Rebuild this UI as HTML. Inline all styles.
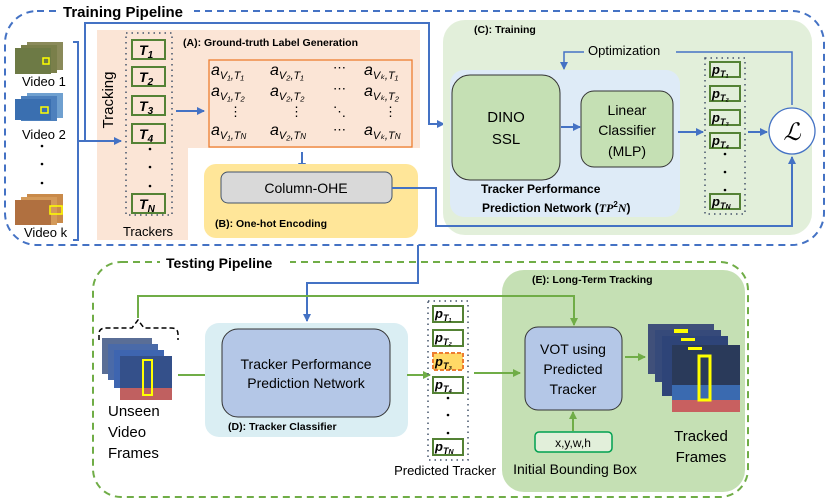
<!DOCTYPE html>
<html><head><meta charset="utf-8"><style>
html,body{margin:0;padding:0;background:#fff}
svg{display:block}
text{font-family:"Liberation Sans",sans-serif}
.b{font-weight:bold}
.m{font-family:"Liberation Serif",serif;font-style:italic}
</style></head><body>
<svg width="831" height="503" viewBox="0 0 831 503" xmlns="http://www.w3.org/2000/svg">
<defs>
<marker id="ab" markerWidth="8" markerHeight="8" refX="7" refY="4" orient="auto" markerUnits="userSpaceOnUse"><path d="M0,0 L8,4 L0,8 z" fill="#4472c4"/></marker>
<marker id="ag" markerWidth="8" markerHeight="8" refX="7" refY="4" orient="auto" markerUnits="userSpaceOnUse"><path d="M0,0 L8,4 L0,8 z" fill="#70ad47"/></marker>
</defs>
<rect x="5" y="11" width="819" height="234" rx="32" fill="none" stroke="#4472c4" stroke-width="2" stroke-dasharray="7,5"/>
<rect x="58" y="2" width="136" height="20" fill="#fff"/>
<text x="63" y="17" class="b" font-size="15">Training Pipeline</text>

<path d="M97,30 H420 V148 H188 V240 H97 Z" fill="#fbe5d6"/>
<text x="183" y="46" class="b" font-size="10.5">(A): Ground-truth Label Generation</text>
<rect x="126" y="33" width="46" height="182" fill="none" stroke="#44546a" stroke-width="1.5" stroke-dasharray="1.5,4"/>
<g fill="none" stroke="#548235" stroke-width="2">
<rect x="132" y="40" width="33" height="19"/><rect x="132" y="67" width="33" height="19"/>
<rect x="132" y="96" width="33" height="19"/><rect x="132" y="124" width="33" height="19"/>
<rect x="132" y="194" width="33" height="19"/></g>
<g class="m b" font-size="14"><text x="139" y="55">T<tspan font-size="10" dy="3">1</tspan></text>
<text x="139" y="82">T<tspan font-size="10" dy="3">2</tspan></text>
<text x="139" y="111">T<tspan font-size="10" dy="3">3</tspan></text>
<text x="139" y="139">T<tspan font-size="10" dy="3">4</tspan></text>
<text x="139" y="209">T<tspan font-size="10" dy="3">N</tspan></text></g>
<g fill="#000"><circle cx="150" cy="149" r="1.3"/><circle cx="150" cy="167" r="1.3"/><circle cx="150" cy="186" r="1.3"/></g>
<text x="148" y="236" text-anchor="middle" font-size="13">Trackers</text>
<text transform="translate(113,100) rotate(-90)" text-anchor="middle" font-size="15">Tracking</text>
<rect x="209" y="60" width="203" height="87" fill="none" stroke="#ed7d31" stroke-width="1.3"/>
<g class="m" font-size="16">
<text x="211" y="75">a<tspan font-size="11" dy="4">V₁,T₁</tspan></text>
<text x="270" y="75">a<tspan font-size="11" dy="4">V₂,T₁</tspan></text>
<text x="364" y="75">a<tspan font-size="11" dy="4">Vₖ,T₁</tspan></text>
<text x="211" y="96">a<tspan font-size="11" dy="4">V₁,T₂</tspan></text>
<text x="270" y="96">a<tspan font-size="11" dy="4">V₂,T₂</tspan></text>
<text x="364" y="96">a<tspan font-size="11" dy="4">Vₖ,T₂</tspan></text>
<text x="211" y="135">a<tspan font-size="11" dy="4">V₁,T<tspan font-size="8">N</tspan></tspan></text>
<text x="270" y="135">a<tspan font-size="11" dy="4">V₂,T<tspan font-size="8">N</tspan></tspan></text>
<text x="364" y="135">a<tspan font-size="11" dy="4">Vₖ,T<tspan font-size="8">N</tspan></tspan></text></g>
<g font-size="13"><text x="333" y="72">⋯</text><text x="333" y="93">⋯</text><text x="333" y="134">⋯</text>
<text x="229" y="116">⋮</text><text x="290" y="116">⋮</text><text x="333" y="116">⋱</text><text x="384" y="116">⋮</text></g>

<g>
<rect x="27" y="42" width="36" height="28" fill="#8a8a5a"/><rect x="21" y="45" width="36" height="28" fill="#7a7f4a"/><rect x="15" y="48" width="36" height="26" fill="#6d7a45"/>
<rect x="43" y="58" width="6" height="6" fill="none" stroke="#ff0" stroke-width="1.5"/>
<rect x="27" y="93" width="36" height="25" fill="#6fa0d0"/><rect x="21" y="96" width="36" height="25" fill="#4d80bd"/><rect x="15" y="99" width="36" height="21" fill="#3a6fb0"/>
<rect x="41" y="107" width="7" height="6" fill="none" stroke="#ff0" stroke-width="1.5"/>
<rect x="27" y="194" width="36" height="29" fill="#c98a4a"/><rect x="21" y="197" width="36" height="28" fill="#d49a5a"/><rect x="15" y="200" width="36" height="25" fill="#b07040"/>
<rect x="50" y="206" width="12" height="8" fill="none" stroke="#ff0" stroke-width="1.5"/>
</g>
<g font-size="13"><text x="22" y="86">Video 1</text><text x="22" y="139">Video 2</text><text x="24" y="237">Video k</text></g>
<g fill="#000"><circle cx="42" cy="146" r="1.3"/><circle cx="42" cy="164" r="1.3"/><circle cx="42" cy="183" r="1.3"/></g>
<path d="M73,42 H78 V240 H73" fill="none" stroke="#4472c4" stroke-width="2"/>
<line x1="78" y1="141" x2="121" y2="141" stroke="#4472c4" stroke-width="2" marker-end="url(#ab)"/>
<path d="M85,141 V23 H429 V124 H444" fill="none" stroke="#4472c4" stroke-width="2" marker-end="url(#ab)"/>
<line x1="176" y1="111" x2="204" y2="111" stroke="#4472c4" stroke-width="2" marker-end="url(#ab)"/>
<line x1="302" y1="152" x2="302" y2="170" stroke="#4472c4" stroke-width="2" marker-end="url(#ab)"/>

<rect x="204" y="164" width="214" height="74" rx="12" fill="#ffe699"/>
<rect x="221" y="172" width="171" height="31" rx="7" fill="#d9d9d9" stroke="#44546a" stroke-width="1"/>
<text x="306" y="193" text-anchor="middle" font-size="14">Column-OHE</text>
<text x="215" y="227" class="b" font-size="10.5">(B): One-hot Encoding</text>

<rect x="443" y="20" width="369" height="215" rx="22" fill="#e2efda"/>
<text x="474" y="33" class="b" font-size="10.5">(C): Training</text>
<rect x="450" y="70" width="230" height="147" rx="14" fill="#deebf7"/>
<rect x="452" y="75" width="108" height="105" rx="18" fill="#c5e0b4" stroke="#333" stroke-width="1"/>
<text x="506" y="122" text-anchor="middle" font-size="15">DINO</text>
<text x="506" y="144" text-anchor="middle" font-size="15">SSL</text>
<rect x="581" y="91" width="92" height="76" rx="13" fill="#c5e0b4" stroke="#333" stroke-width="1"/>
<g font-size="14" text-anchor="middle"><text x="627" y="115">Linear</text><text x="627" y="135">Classifier</text><text x="627" y="156">(MLP)</text></g>
<line x1="561" y1="127" x2="580" y2="127" stroke="#4472c4" stroke-width="2" marker-end="url(#ab)"/>
<text x="481" y="193" class="b" font-size="12">Tracker Performance</text>
<text x="482" y="212" class="b" font-size="12">Prediction Network (<tspan class="m">TP</tspan><tspan font-size="8" dy="-5">2</tspan><tspan class="m" dy="5">N</tspan>)</text>
<text x="588" y="55" font-size="13">Optimization</text>
<path d="M676,52 H792 V105" fill="none" stroke="#4472c4" stroke-width="1.5"/>
<path d="M584,52 H564 V69" fill="none" stroke="#4472c4" stroke-width="1.5" marker-end="url(#ab)"/>
<rect x="705" y="58" width="40" height="156" fill="none" stroke="#44546a" stroke-width="1.5" stroke-dasharray="1.5,4"/>
<g fill="none" stroke="#548235" stroke-width="2">
<rect x="710" y="62" width="30" height="15"/><rect x="710" y="86" width="30" height="15"/>
<rect x="710" y="110" width="30" height="15"/><rect x="710" y="133" width="30" height="15"/><rect x="710" y="194" width="30" height="15"/></g>
<g class="m b" font-size="13"><text x="712" y="74">p<tspan font-size="9" dy="3">T₁</tspan></text>
<text x="712" y="98">p<tspan font-size="9" dy="3">T₂</tspan></text>
<text x="712" y="122">p<tspan font-size="9" dy="3">T₃</tspan></text>
<text x="712" y="145">p<tspan font-size="9" dy="3">T₄</tspan></text>
<text x="712" y="206">p<tspan font-size="9" dy="3">T<tspan font-size="7">N</tspan></tspan></text></g>
<g fill="#000"><circle cx="725" cy="154" r="1.3"/><circle cx="725" cy="172" r="1.3"/><circle cx="725" cy="190" r="1.3"/></g>
<line x1="678" y1="132" x2="703" y2="132" stroke="#4472c4" stroke-width="2" marker-end="url(#ab)"/>
<line x1="748" y1="132" x2="767" y2="132" stroke="#4472c4" stroke-width="2" marker-end="url(#ab)"/>
<circle cx="792" cy="131" r="23" fill="#fff" stroke="#4472c4" stroke-width="1.3"/>
<text x="792" y="140" text-anchor="middle" font-family="Liberation Serif,serif" font-style="italic" font-size="24">ℒ</text>
<path d="M392,188 H436 V226 H792 V157" fill="none" stroke="#4472c4" stroke-width="2" marker-end="url(#ab)"/>

<rect x="93" y="262" width="655" height="235" rx="28" fill="none" stroke="#70ad47" stroke-width="2" stroke-dasharray="7,5"/>
<rect x="160" y="254" width="130" height="18" fill="#fff"/>
<text x="166" y="268" class="b" font-size="14">Testing Pipeline</text>
<rect x="502" y="270" width="243" height="222" rx="22" fill="#c5e0b4"/>
<text x="532" y="283" class="b" font-size="10.5">(E): Long-Term Tracking</text>
<path d="M418,245 V283 H307 V321" fill="none" stroke="#4472c4" stroke-width="2" marker-end="url(#ab)"/>
<path d="M138,318 V296 H574 V325" fill="none" stroke="#70ad47" stroke-width="2" marker-end="url(#ag)"/>
<path d="M99,340 V334 Q99,328 106,328 H132 L138,320 L144,328 H171 Q178,328 178,334 V340" fill="none" stroke="#000" stroke-width="1.5" stroke-dasharray="5,3"/>
<g>
<rect x="102" y="338" width="50" height="36" fill="#5a6e96"/><rect x="108" y="344" width="50" height="36" fill="#4a6aa8"/><rect x="114" y="350" width="50" height="38" fill="#3e65b0"/>
<rect x="120" y="356" width="52" height="44" fill="#34508a"/><rect x="120" y="388" width="52" height="12" fill="#c06060"/>
<rect x="143" y="360" width="9" height="35" fill="none" stroke="#ff0" stroke-width="2"/></g>
<g font-size="15"><text x="108" y="416">Unseen</text><text x="108" y="437">Video</text><text x="108" y="458">Frames</text></g>
<line x1="178" y1="375" x2="212" y2="375" stroke="#70ad47" stroke-width="2" marker-end="url(#ag)"/>
<rect x="205" y="323" width="203" height="114" rx="14" fill="#daeef3"/>
<rect x="222" y="329" width="168" height="88" rx="16" fill="#b4c7e7" stroke="#333" stroke-width="1"/>
<text x="306" y="369" text-anchor="middle" font-size="14">Tracker Performance</text>
<text x="306" y="388" text-anchor="middle" font-size="14">Prediction Network</text>
<text x="228" y="430" class="b" font-size="10.5">(D): Tracker Classifier</text>
<line x1="407" y1="375" x2="430" y2="375" stroke="#70ad47" stroke-width="2" marker-end="url(#ag)"/>
<rect x="428" y="301" width="40" height="159" fill="none" stroke="#44546a" stroke-width="1.5" stroke-dasharray="1.5,4"/>
<rect x="433" y="353" width="30" height="17" fill="#ffd966"/>
<g fill="none" stroke="#548235" stroke-width="2">
<rect x="433" y="306" width="30" height="16"/><rect x="433" y="330" width="30" height="16"/>
<rect x="433" y="377" width="30" height="16"/><rect x="433" y="439" width="30" height="16"/></g>
<rect x="433" y="353" width="30" height="17" fill="none" stroke="#ed7d31" stroke-width="2" stroke-dasharray="4,2"/>
<g class="m b" font-size="13"><text x="435" y="318">p<tspan font-size="9" dy="3">T₁</tspan></text>
<text x="435" y="342">p<tspan font-size="9" dy="3">T₂</tspan></text>
<text x="435" y="366">p<tspan font-size="9" dy="3">T₃</tspan></text>
<text x="435" y="389">p<tspan font-size="9" dy="3">T₄</tspan></text>
<text x="435" y="451">p<tspan font-size="9" dy="3">T<tspan font-size="7">N</tspan></tspan></text></g>
<g fill="#000"><circle cx="448" cy="398" r="1.3"/><circle cx="448" cy="415" r="1.3"/><circle cx="448" cy="433" r="1.3"/></g>
<text x="445" y="475" text-anchor="middle" font-size="13">Predicted Tracker</text>
<line x1="474" y1="373" x2="520" y2="373" stroke="#70ad47" stroke-width="2" marker-end="url(#ag)"/>
<rect x="525" y="327" width="97" height="83" rx="13" fill="#b4c7e7" stroke="#333" stroke-width="1"/>
<g font-size="14" text-anchor="middle"><text x="573" y="354">VOT using</text><text x="573" y="374">Predicted</text><text x="573" y="394">Tracker</text></g>
<line x1="625" y1="357" x2="645" y2="357" stroke="#70ad47" stroke-width="2" marker-end="url(#ag)"/>
<rect x="535" y="432" width="77" height="20" rx="4" fill="#e2efda" stroke="#00a050" stroke-width="1.5"/>
<text x="573" y="447" text-anchor="middle" font-size="12">x,y,w,h</text>
<line x1="573" y1="431" x2="573" y2="412" stroke="#70ad47" stroke-width="2" marker-end="url(#ag)"/>
<text x="575" y="474" text-anchor="middle" font-size="14">Initial Bounding Box</text>
<g>
<rect x="648" y="324" width="66" height="50" fill="#40507a"/><rect x="655" y="330" width="66" height="52" fill="#364a7a"/><rect x="662" y="336" width="66" height="60" fill="#2e4478"/>
<rect x="672" y="345" width="68" height="67" fill="#2a3a5a"/><rect x="672" y="400" width="68" height="12" fill="#c86060"/>
<rect x="672" y="385" width="68" height="15" fill="#3a6ab0"/>
<rect x="674" y="329" width="14" height="4" fill="#ff0"/><rect x="681" y="338" width="14" height="3" fill="#ff0"/><rect x="688" y="347" width="14" height="3" fill="#ff0"/>
<rect x="699" y="356" width="11" height="44" fill="none" stroke="#ff0" stroke-width="3"/></g>
<g font-size="15" text-anchor="middle"><text x="701" y="441">Tracked</text><text x="701" y="462">Frames</text></g>
</svg>
</body></html>
